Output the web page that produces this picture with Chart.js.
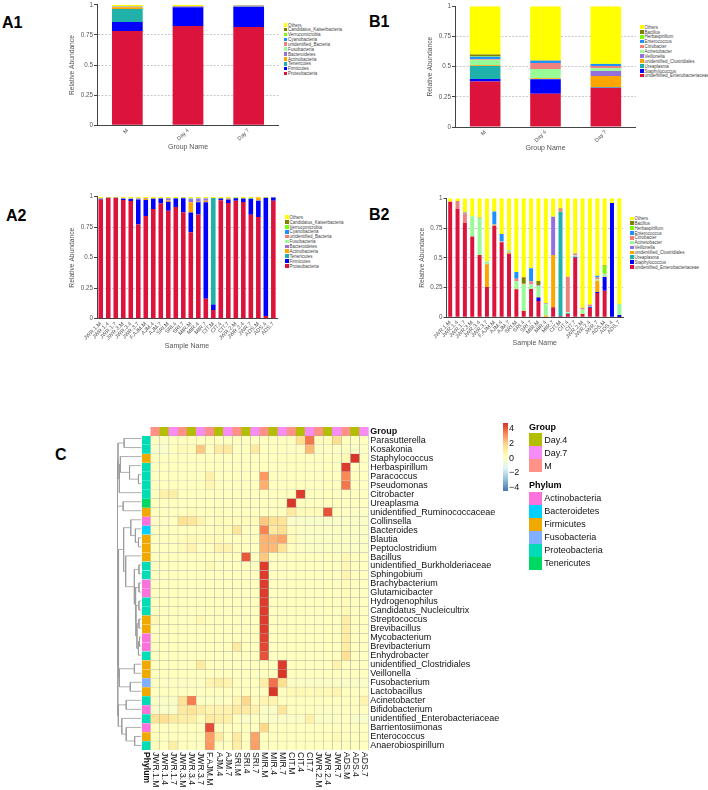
<!DOCTYPE html>
<html>
<head>
<meta charset="utf-8">
<title>Relative abundance and heatmap</title>
<script src="https://cdn.jsdelivr.net/npm/chart.js@4/dist/chart.umd.min.js"></script>
<style>
  html, body { margin: 0; background: #fff; }
  #page { position: relative; width: 708px; height: 790px; overflow: hidden; font-family: "Liberation Sans", Arial, sans-serif; }
  #page canvas { position: absolute; }
  .panel { position: absolute; font-size: 16px; font-weight: bold; color: #000; line-height: 16px; }
  .leg { position: absolute; font-size: 4.5px; line-height: 5px; color: #444; white-space: nowrap; }
  .leg i { position: absolute; left: -4.5px; top: .5px; width: 3.6px; height: 3.6px; }
  .hm { position: absolute; font-size: 9px; line-height: 12px; color: #111; white-space: nowrap; }
  .hm b { color: #000; }
  .sw { position: absolute; width: 13px; border: 0; }
</style>
</head>
<body>
<div id="page"></div>
<script>
const page = document.getElementById("page");

// ---- stacked bars ----
const groupNames = ["M", "Day 4", "Day 7"];
const sampleNames = ["JWR.1.M", "JWR.1.4", "JWR.1.7", "JWR.3.M", "JWR.3.4", "JWR.3.7", "F.AJM.M", "AJM.4", "AJM.7", "SRI.M", "SRI.4", "SRI.7", "MIR.M", "MIR.4", "MIR.7", "CIT.M", "CIT.4", "CIT.7", "JWR.2.M", "JWR.2.4", "JWR.7", "ADS.M", "ADS.4", "ADS.7"];
const barColors = ["#DC143C", "#0000FF", "#20B2AA", "#FFA500", "#9370DB", "#98FB98", "#F08080", "#1E90FF", "#7CFC00", "#808000", "#FFFF00"];
const yTicks = [0, 0.25, 0.5, 0.75, 1];

const phylaNames = ["Proteobacteria", "Firmicutes", "Tenericutes", "Actinobacteria", "Bacteroidetes", "Fusobacteria", "unidentified_Bacteria", "Cyanobacteria", "Verrucomicrobia", "Candidatus_Kaiserbacteria", "Others"];
const genusNames = ["unidentified_Enterobacteriaceae", "Staphylococcus", "Ureaplasma", "unidentified_Clostridiales", "Veillonella", "Acinetobacter", "Citrobacter", "Enterococcus", "Herbaspirillum", "Bacillus", "Others"];

// A1, one array per phylum, bottom of the stack first
const a1Proteo = [0.782, 0.824, 0.815];
const a1Firmi = [0.075, 0.156, 0.168];
const a1Teneri = [0.107, 0.001, 0.002];
const a1Actino = [0.015, 0.002, 0.003];
const a1Bactero = [0.005, 0.007, 0.006];
const a1Fuso = [0.001, 0, 0];
const a1Unid = [0.001, 0, 0];
const a1Cyano = [0, 0, 0];
const a1Verruco = [0, 0, 0];
const a1Candid = [0.001, 0, 0];
const a1Others = [0.013, 0.01, 0.006];

// B1, one array per genus
const b1Entero = [0.378, 0.276, 0.323];
const b1Staph = [0.02, 0.119, 0.003];
const b1Urea = [0.107, 0.002, 0.004];
const b1Clost = [0.006, 0.006, 0.093];
const b1Veil = [0.002, 0.001, 0.041];
const b1Acin = [0.045, 0.077, 0.022];
const b1Citro = [0.006, 0.05, 0.02];
const b1Enteroc = [0.019, 0.017, 0.016];
const b1Herba = [0.003, 0.001, 0.001];
const b1Bacil = [0.014, 0.001, 0.002];
const b1Others = [0.4, 0.45, 0.475];

// A2
const a2Proteo = [0.978, 0.99, 0.99, 0.973, 0.965, 0.773, 0.842, 0.899, 0.945, 0.885, 0.915, 0.872, 0.708, 0.855, 0.164, 0.071, 0.97, 0.948, 0.967, 0.956, 0.852, 0.833, 0.022, 0.967];
const a2Firmi = [0.005, 0.001, 0.001, 0.011, 0.016, 0.205, 0.13, 0.085, 0.04, 0.074, 0.07, 0.116, 0.162, 0.1, 0.79, 0.046, 0.015, 0.03, 0.02, 0.03, 0.13, 0.134, 0.97, 0.026];
const a2Teneri = [0, 0, 0, 0, 0, 0, 0, 0, 0, 0, 0, 0, 0, 0, 0, 0.873, 0.002, 0, 0.004, 0, 0.006, 0.002, 0, 0];
const a2Actino = [0, 0, 0, 0, 0, 0, 0.012, 0.003, 0, 0.01, 0, 0.002, 0.085, 0.003, 0.012, 0, 0, 0.005, 0, 0.001, 0, 0.024, 0, 0];
const a2Bactero = [0.002, 0.001, 0.001, 0.004, 0.004, 0.008, 0.005, 0.003, 0.003, 0.018, 0.004, 0.001, 0.028, 0.028, 0.02, 0, 0, 0.004, 0, 0, 0, 0, 0, 0.002];
const a2Fuso = [0, 0, 0, 0, 0, 0, 0, 0, 0, 0, 0, 0, 0.005, 0.004, 0.004, 0, 0, 0, 0, 0, 0, 0, 0, 0];
const a2Unid = [0, 0, 0, 0, 0, 0, 0, 0, 0, 0, 0, 0, 0, 0, 0, 0, 0, 0, 0, 0, 0, 0, 0, 0];
const a2Cyano = [0, 0, 0, 0, 0, 0, 0, 0, 0, 0, 0, 0, 0, 0, 0, 0, 0, 0, 0, 0, 0, 0, 0, 0];
const a2Verruco = [0, 0, 0, 0, 0, 0, 0, 0, 0, 0, 0, 0, 0.004, 0, 0, 0, 0, 0, 0, 0, 0, 0, 0, 0];
const a2Candid = [0, 0, 0, 0, 0, 0, 0, 0, 0, 0, 0, 0, 0, 0, 0, 0, 0, 0, 0, 0, 0, 0, 0, 0];
const a2Others = [0.015, 0.008, 0.008, 0.012, 0.015, 0.014, 0.011, 0.01, 0.012, 0.013, 0.011, 0.009, 0.008, 0.01, 0.01, 0.01, 0.013, 0.013, 0.009, 0.013, 0.012, 0.007, 0.008, 0.005];

// B2
const b2Entero = [0.97, 0.91, 0.795, 0.678, 0.524, 0.255, 0.77, 0.63, 0.532, 0.235, 0.053, 0.238, 0.137, 0.004, 0.084, 0.01, 0.028, 0.5, 0.027, 0.08, 0.205, 0.224, 0, 0.002];
const b2Staph = [0, 0, 0, 0, 0, 0, 0, 0, 0, 0, 0, 0, 0.03, 0, 0, 0, 0, 0.005, 0, 0.008, 0.008, 0.114, 0.96, 0.018];
const b2Urea = [0, 0, 0, 0, 0, 0, 0, 0, 0, 0, 0, 0, 0, 0, 0, 0.878, 0.006, 0.005, 0, 0, 0, 0, 0, 0];
const b2Clost = [0, 0, 0, 0, 0, 0.19, 0.006, 0.005, 0.012, 0.005, 0.003, 0, 0.005, 0.011, 0.44, 0.005, 0, 0, 0.003, 0, 0.095, 0.003, 0, 0];
const b2Veil = [0, 0, 0, 0, 0, 0.003, 0, 0, 0.005, 0, 0, 0, 0, 0, 0.322, 0, 0, 0, 0, 0, 0, 0, 0, 0];
const b2Acin = [0, 0, 0, 0.17, 0.31, 0.02, 0.001, 0.002, 0.01, 0.065, 0.221, 0.04, 0.09, 0.095, 0, 0, 0.008, 0.01, 0.035, 0.008, 0.012, 0.02, 0, 0.092];
const b2Citro = [0, 0.067, 0.08, 0.002, 0.005, 0.003, 0.003, 0, 0, 0.02, 0.005, 0.025, 0.005, 0.003, 0, 0.017, 0.298, 0.015, 0.015, 0.012, 0.015, 0.005, 0, 0];
const b2Enteroc = [0, 0, 0.005, 0, 0, 0, 0.11, 0.063, 0.002, 0.055, 0, 0.11, 0.002, 0.005, 0, 0, 0, 0.002, 0, 0, 0.015, 0, 0, 0];
const b2Herba = [0, 0, 0, 0, 0, 0, 0, 0, 0, 0, 0, 0, 0, 0, 0, 0, 0, 0, 0, 0, 0, 0.065, 0, 0];
const b2Bacil = [0, 0, 0, 0, 0, 0, 0, 0, 0, 0, 0.055, 0, 0.035, 0, 0, 0.005, 0, 0, 0, 0, 0, 0.005, 0, 0];
const b2Others = [0.03, 0.023, 0.12, 0.15, 0.161, 0.529, 0.11, 0.3, 0.439, 0.62, 0.663, 0.587, 0.696, 0.882, 0.154, 0.085, 0.66, 0.463, 0.92, 0.892, 0.65, 0.564, 0.04, 0.888];

// ---- heatmap ----
const heatRows = ["Parasutterella", "Kosakonia", "Staphylococcus", "Herbaspirillum", "Paracoccus", "Pseudomonas", "Citrobacter", "Ureaplasma", "unidentified_Ruminococcaceae", "Collinsella", "Bacteroides", "Blautia", "Peptoclostridium", "Bacillus", "unidentified_Burkholderiaceae", "Sphingobium", "Brachybacterium", "Glutamicibacter", "Hydrogenophilus", "Candidatus_Nucleicultrix", "Streptococcus", "Brevibacillus", "Mycobacterium", "Brevibacterium", "Enhydrobacter", "unidentified_Clostridiales", "Veillonella", "Fusobacterium", "Lactobacillus", "Acinetobacter", "Bifidobacterium", "unidentified_Enterobacteriaceae", "Barrientosiimonas", "Enterococcus", "Anaerobiospirillum"];
const heatCols = ["JWR.1.M", "JWR.1.4", "JWR.1.7", "JWR.3.M", "JWR.3.4", "JWR.3.7", "F.AJM.M", "AJM.4", "AJM.7", "SRI.M", "SRI.4", "SRI.7", "MIR.M", "MIR.4", "MIR.7", "CIT.M", "CIT.4", "CIT.7", "JWR.2.M", "JWR.2.4", "JWR.7", "ADS.M", "ADS.4", "ADS.7"];
const colGroup = ["M", "Day.4", "Day.7", "M", "Day.4", "Day.7", "M", "Day.4", "Day.7", "M", "Day.4", "Day.7", "M", "Day.4", "Day.7", "M", "Day.4", "Day.7", "M", "Day.4", "Day.7", "M", "Day.4", "Day.7"];
const rowPhylum = ["Proteobacteria", "Proteobacteria", "Firmicutes", "Proteobacteria", "Proteobacteria", "Proteobacteria", "Proteobacteria", "Tenericutes", "Firmicutes", "Actinobacteria", "Bacteroidetes", "Firmicutes", "Firmicutes", "Firmicutes", "Proteobacteria", "Proteobacteria", "Actinobacteria", "Actinobacteria", "Proteobacteria", "Proteobacteria", "Firmicutes", "Firmicutes", "Actinobacteria", "Actinobacteria", "Proteobacteria", "Firmicutes", "Firmicutes", "Fusobacteria", "Firmicutes", "Proteobacteria", "Actinobacteria", "Proteobacteria", "Actinobacteria", "Firmicutes", "Proteobacteria"];
const heatValues = [
  [-.1, -.1, 0, 0, 0, 0, 0, 0, 0, 0, 0, 0, 0, 0, 0, 0, 1.5, 3.5, .1, .1, 1.6, 0, 0, 0],
  [-.3, -.3, 0, .3, .2, 2, 0, 1, 1.1, 0, 0, 1, 0, 0, 0, -.1, -.1, 2.3, -.1, -.1, -.1, -.1, -.2, -.1],
  [0, 0, 0, 0, 0, 0, 0, 0, 0, 0, 0, 0, 0, 0, 0, 0, 0, 0, 0, 0, 0, .3, 4.6, 0],
  [0, 0, 0, 0, 0, 0, 0, 0, 0, 0, 0, 0, 0, 0, 0, 0, 0, 0, 0, 0, 0, 4.5, 0, 0],
  [0, 0, 0, 0, 0, 0, .7, 0, 0, 0, 0, 0, 2.9, 0, 0, 0, 0, 0, 0, 0, 0, 3.2, 0, 0],
  [0, 0, 0, 0, 0, 0, .4, 0, 0, 0, 0, 0, 2.5, 0, 0, 0, 0, 0, 0, 0, 0, 3.5, 0, 0],
  [0, .7, .8, 0, 0, 0, 0, 0, 0, 0, 0, 0, 0, 0, 0, 0, 4.5, 0, 0, 0, 0, 0, 0, 0],
  [0, 0, 0, 0, 0, 0, 0, 0, 0, 0, 0, 0, 0, 0, 0, 4.6, 0, 0, 0, 0, 0, 0, 0, 0],
  [0, 0, 0, 0, .2, 0, 0, .1, 0, 0, 0, 0, 0, 0, 0, 1, .2, .2, .1, 4.1, 0, -.1, -.1, -.1],
  [-.1, -.1, 0, 1.4, 1.2, .5, 0, .2, .2, .1, .2, .2, 2, 1.5, 1.3, -.3, -.3, -.3, -.3, -.3, -.3, -.2, -.2, -.2],
  [0, 0, 0, 0, 0, 0, 0, .2, .2, 1.2, 0, 0, 3.3, 1, 1.5, .1, -.1, -.1, -.1, -.1, -.1, -.1, -.1, -.1],
  [0, 0, 0, .2, .3, .2, .2, .2, 0, 0, 0, 0, 2.4, 2.4, 2.7, .2, -.1, -.1, -.1, -.1, -.1, -.1, -.1, -.1],
  [0, 0, 0, .2, .5, 0, 0, .6, .6, .1, 0, 0, 2.4, 2.3, 1.3, 0, -.1, -.1, -.1, -.1, -.1, -.1, -.1, -.1],
  [0, 0, 0, 0, 0, 0, 0, 0, 0, 0, 4, 0, 2, 0, 0, 0, 0, 0, 0, 0, 0, .3, 0, 0],
  [0, 0, 0, 0, 0, 0, .3, 0, 0, 0, 0, 0, 4.5, 0, 0, 0, 0, 0, 0, 0, 0, .4, 0, 0],
  [0, 0, 0, 0, 0, 0, 0, 0, 0, 0, 0, 0, 4.5, 0, 0, 0, 0, 0, 0, 0, 0, .5, 0, 0],
  [0, 0, 0, 0, 0, 0, 0, 0, 0, 0, 0, 0, 4.5, 0, 0, 0, 0, 0, 0, 0, 0, .2, 0, 0],
  [0, 0, 0, 0, 0, 0, 0, 0, 0, 0, 0, 0, 4.5, 0, 0, 0, 0, 0, 0, 0, 0, .2, 0, 0],
  [0, 0, 0, 0, 0, 0, 0, 0, 0, 0, 0, 0, 4.5, 0, 0, 0, 0, 0, 0, 0, 0, .2, 0, 0],
  [0, 0, 0, 0, 0, 0, 0, 0, 0, 0, 0, 0, 4.5, 0, 0, 0, 0, 0, 0, 0, 0, .3, 0, 0],
  [.4, 0, 0, 0, 0, .3, 0, 0, 0, 0, 0, 0, 4.5, 0, 0, 0, 0, 0, 0, 0, 0, .8, 0, 0],
  [0, 0, 0, 0, 0, 0, 0, 0, 0, 0, 0, 0, 4.5, 0, 0, 0, 0, 0, 0, 0, 0, .8, 0, 0],
  [0, 0, 0, 0, 0, 0, 0, 0, 0, 0, 0, 0, 4.4, 0, 0, 0, 0, 0, 0, 0, 0, .9, 0, 0],
  [0, 0, 0, 0, 0, 0, 0, 0, 0, 1, 0, 0, 4.3, 0, 0, 0, 0, 0, 0, 0, 0, .9, 0, 0],
  [0, 0, 0, 0, 0, 0, 0, 0, 0, 0, 0, 0, 4.1, 0, 0, 0, 0, 0, 0, 0, 0, 1.5, 0, 0],
  [0, 0, 0, 0, 0, 1, 0, 0, 0, 0, 0, 0, 0, 0, 4.5, 0, 0, 0, 0, 0, .6, 0, 0, 0],
  [0, 0, 0, 0, 0, 0, 0, 0, 0, 0, 0, 0, 0, 0, 4.6, 0, 0, 0, 0, 0, 0, 0, 0, 0],
  [-.1, -.1, -.1, -.1, -.1, -.1, .5, .8, .6, 0, 0, 0, .8, 3.6, 1.6, -.2, -.2, -.2, -.2, -.2, -.2, -.2, -.2, -.2],
  [0, 0, 0, 0, 0, 0, 0, 0, 0, 0, 0, 0, 0, 4.6, 0, .3, .3, .2, .3, .3, .5, 0, 0, 0],
  [-.2, -.2, -.2, 1.3, 3.4, -.1, -.1, -.1, -.1, .4, 1.7, .1, .5, .5, 0, 0, 0, 0, 0, 0, 0, 0, 0, .6],
  [-.3, -.3, -.3, 1, 1.3, .9, .5, .6, .6, 1, 1, .6, -.2, -.2, 1.2, 0, 0, 0, -.1, -.1, -.1, 0, 0, 0],
  [1.4, 1.5, 1, .8, .8, .2, 1, .8, .7, 0, -.3, 0, -.2, -.2, -.2, -.2, -.2, .7, -.2, -.2, -.2, 0, -.3, -.3],
  [0, 0, 0, 0, 0, 0, 4.2, 0, 0, 0, 0, 0, 1.7, 0, 0, 0, 0, 0, 0, 0, 0, 0, 0, 0],
  [0, 0, 0, 0, 0, 0, 2.8, 1, 0, 1, 0, 2.7, 0, 0, 0, 0, 0, 0, 0, 0, .3, 0, 0, 0],
  [.2, 0, .8, 0, 0, 0, 2.9, 0, 0, .8, 0, 2.8, 0, 0, 0, 0, 0, 0, 0, 0, 0, 0, 0, 0]
];

const groupColors = { "Day.4": "#B4BE00", "Day.7": "#F78CF5", "M": "#FF9288" };
const phylumColors = { Actinobacteria: "#FB72DC", Bacteroidetes: "#00D0FF", Firmicutes: "#F0A900", Fusobacteria: "#80AFFF", Proteobacteria: "#00DDB6", Tenericutes: "#00D864" };
const scaleStops = [[-4.7, "#4575B4"], [-3.13, "#91BFDB"], [-1.57, "#E0F3F8"], [0, "#FFFFBF"], [1.57, "#FEE090"], [3.13, "#FC8D59"], [4.7, "#D73027"]];
const colorbarTicks = ["4", "2", "0", "\u22122", "\u22124"];

// row clustering: [left, right, height], >=0 is a row, <0 is an earlier merge (-1 = first)
const dendroMerges = [
  [0, 1, 17], [4, 5, 3], [3, -2, 11.7], [2, -3, 20.7], [-4, 6, 21.7], [-1, -5, 23],
  [7, 8, 18], [-6, -7, 23.5],
  [11, 12, 3], [10, -9, 6], [9, -10, 10.5],
  [14, 15, 2.5], [16, 17, 2.5], [18, 19, 2.5], [20, 21, 2.5], [22, 23, 2], [-16, 24, 3],
  [-15, -17, 4.5], [-14, -18, 5.5], [-13, -19, 6], [-12, -20, 7], [13, -21, 15.5],
  [-11, -22, 17.5],
  [25, 26, 7], [27, 28, 11], [-24, -25, 21.7], [-23, -26, 22.5],
  [29, 30, 15], [33, 34, 6.7], [32, -29, 15], [31, -30, 19.3], [-28, -31, 22.7],
  [-27, -32, 23.2], [-8, -33, 24]
];

function hexToRgb(h) {
  return [1, 3, 5].map((i) => parseInt(h.slice(i, i + 2), 16));
}
function heatColor(v) {
  for (let i = 1; i < scaleStops.length; i++) {
    if (v <= scaleStops[i][0]) {
      const t = (v - scaleStops[i - 1][0]) / (scaleStops[i][0] - scaleStops[i - 1][0]);
      const a = hexToRgb(scaleStops[i - 1][1]);
      const b = hexToRgb(scaleStops[i][1]);
      return `rgb(${a.map((c, k) => Math.round(c + (b[k] - c) * t)).join(",")})`;
    }
  }
  return scaleStops[scaleStops.length - 1][1];
}

function addCanvas(left, top, w, h) {
  const c = document.createElement("canvas");
  c.style.left = left + "px";
  c.style.top = top + "px";
  c.style.width = w + "px";
  c.style.height = h + "px";
  c.width = w;
  c.height = h;
  page.appendChild(c);
  return c;
}

function addText(cls, left, top, html) {
  const d = document.createElement("div");
  d.className = cls;
  d.style.left = left + "px";
  d.style.top = top + "px";
  d.innerHTML = html;
  page.appendChild(d);
  return d;
}

const AXIS = "#444";
const LABEL = "#555";
const FONT = "'Liberation Sans', Arial, sans-serif";

// box: canvas left/top/w/h, axisX and y0 in page px, yTop in page px
function stackChart(box, labels, names, series, xTitle, barPct, tickSize) {
  const c = addCanvas(box.left, box.top, box.w, box.h);
  new Chart(c, {
    type: "bar",
    data: {
      labels,
      datasets: names.map((n, i) => ({
        label: n,
        data: series[i],
        backgroundColor: barColors[i],
        barPercentage: barPct,
        categoryPercentage: 1,
      })),
    },
    options: {
      responsive: false,
      animation: false,
      layout: { padding: { top: box.yTop - box.top } },
      plugins: { legend: { display: false }, tooltip: { enabled: false } },
      scales: {
        x: {
          stacked: true,
          grid: { display: false, drawTicks: false },
          border: { color: AXIS, width: 1 },
          ticks: { font: { size: tickSize, family: FONT }, color: LABEL, maxRotation: 45, minRotation: 45, autoSkip: false, padding: 2 },
          title: { display: true, text: xTitle, font: { size: 7, family: FONT }, color: LABEL, padding: 0 },
          afterFit: (s) => { s.height = box.top + box.h - box.y0; },
        },
        y: {
          stacked: true,
          min: 0,
          max: 1,
          afterBuildTicks: (s) => { s.ticks = yTicks.map((v) => ({ value: v })); },
          grid: {
            color: (ctx) => (ctx.tick && (ctx.tick.value === 0 || ctx.tick.value === 1) ? "rgba(0,0,0,0)" : "#c9c9c9"),
            tickColor: AXIS,
            tickLength: 3,
          },
          border: { color: AXIS, width: 1, dash: [2, 1.5] },
          ticks: { font: { size: 6.3, family: FONT }, color: LABEL, padding: 1, callback: (v) => String(v) },
          title: { display: true, text: "Relative Abundance", font: { size: 6.7, family: FONT }, color: LABEL, padding: 0 },
          afterFit: (s) => { s.width = box.axisX - box.left; },
        },
      },
    },
  });
}

function barLegend(x, y, names) {
  names.slice().reverse().forEach((n, i) => {
    const color = barColors[names.length - 1 - i];
    addText("leg", x + 4.5, y + i * 4.87, `<i style="background:${color}"></i>${n}`);
  });
}

stackChart({ left: 68, top: 0, w: 211, h: 151, axisX: 97, y0: 125.3, yTop: 4.3 }, groupNames, phylaNames,
  [a1Proteo, a1Firmi, a1Teneri, a1Actino, a1Bactero, a1Fuso, a1Unid, a1Cyano, a1Verruco, a1Candid, a1Others], "Group Name", 0.507, 5.5);
stackChart({ left: 426, top: 0, w: 210, h: 152, axisX: 455, y0: 127, yTop: 6.3 }, groupNames, genusNames,
  [b1Entero, b1Staph, b1Urea, b1Clost, b1Veil, b1Acin, b1Citro, b1Enteroc, b1Herba, b1Bacil, b1Others], "Group Name", 0.507, 5.5);
stackChart({ left: 68, top: 185, w: 212, h: 165, axisX: 97, y0: 318.7, yTop: 196.7 }, sampleNames, phylaNames,
  [a2Proteo, a2Firmi, a2Teneri, a2Actino, a2Bactero, a2Fuso, a2Unid, a2Cyano, a2Verruco, a2Candid, a2Others], "Sample Name", 0.61, 5.5);
stackChart({ left: 418, top: 185, w: 208, h: 162, axisX: 446.5, y0: 317.3, yTop: 198.3 }, sampleNames, genusNames,
  [b2Entero, b2Staph, b2Urea, b2Clost, b2Veil, b2Acin, b2Citro, b2Enteroc, b2Herba, b2Bacil, b2Others], "Sample Name", 0.54, 5.5);

barLegend(283.5, 22.5, phylaNames);
barLegend(640, 24.7, genusNames);
barLegend(285, 214.8, phylaNames);
barLegend(630, 216, genusNames);

addText("panel", 2, 15, "A1");
addText("panel", 369, 14, "B1");
addText("panel", 6, 208, "A2");
addText("panel", 369, 207, "B2");
addText("panel", 55, 447, "C");

// heatmap sample labels read downwards, which the axis ticks cannot do
const downLabels = {
  id: "downLabels",
  afterDraw(chart) {
    const ctx = chart.ctx;
    const x = chart.scales.x;
    ctx.save();
    ctx.fillStyle = "#111";
    ctx.textAlign = "left";
    ctx.textBaseline = "middle";
    x.getLabels().forEach((label, i) => {
      ctx.save();
      ctx.translate(x.getPixelForValue(i), chart.chartArea.bottom + 2);
      ctx.rotate(Math.PI / 2);
      ctx.font = (i === 0 ? "bold " : "") + "8.6px " + FONT;
      ctx.fillText(label, 0, 0);
      ctx.restore();
    });
    ctx.restore();
  },
};

function heatDatasets() {
  const sets = [];
  for (let r = heatRows.length - 1; r >= 0; r--) {
    sets.push({
      label: heatRows[r],
      data: new Array(heatCols.length + 1).fill(1),
      backgroundColor: [phylumColors[rowPhylum[r]]].concat(heatValues[r].map(heatColor)),
      borderColor: ["rgba(0,0,0,0)"].concat(heatValues[r].map(() => "#aaa99a")),
      borderWidth: 0.5,
      barPercentage: 1,
      categoryPercentage: 1,
    });
  }
  // annotation row on top
  sets.push({
    label: "Group",
    data: new Array(heatCols.length + 1).fill(1),
    backgroundColor: ["rgba(0,0,0,0)"].concat(colGroup.map((g) => groupColors[g])),
    borderWidth: 0,
    barPercentage: 1,
    categoryPercentage: 1,
  });
  return sets;
}

new Chart(addCanvas(140, 420, 368, 370), {
  type: "bar",
  data: { labels: ["Phylum"].concat(heatCols), datasets: heatDatasets() },
  options: {
    responsive: false,
    animation: false,
    layout: { padding: { left: 1.7, top: 4, bottom: 40 } },
    plugins: { legend: { display: false }, tooltip: { enabled: false } },
    scales: {
      x: { stacked: true, display: false },
      y: { stacked: true, display: false, min: 0, max: heatRows.length + 1 },
      rowNames: {
        type: "category",
        axis: "y",
        position: "right",
        offset: true,
        labels: ["Group"].concat(heatRows),
        grid: { display: false, drawTicks: false },
        border: { display: false },
        ticks: {
          autoSkip: false,
          padding: 1.5,
          color: "#111",
          font: (ctx) => ({ size: 9, family: FONT, weight: ctx.index === 0 ? "bold" : "normal" }),
        },
        afterFit: (s) => { s.width = 139.3; },
      },
    },
  },
  plugins: [downLabels],
});

// dendrogram: x is merge height, y is row position
function dendroDatasets() {
  const nodes = [];
  const place = (id) => (id >= 0 ? { y: id + 0.5, h: 0 } : nodes[-id - 1]);
  return dendroMerges.map(([a, b, h]) => {
    const l = place(a);
    const r = place(b);
    nodes.push({ y: (l.y + r.y) / 2, h });
    return {
      data: [{ x: l.h, y: l.y }, { x: h, y: l.y }, { x: h, y: r.y }, { x: r.h, y: r.y }],
      showLine: true,
      pointRadius: 0,
      borderColor: "#9a9a9a",
      borderWidth: 0.8,
      tension: 0,
    };
  });
}

new Chart(addCanvas(116, 433, 26, 319), {
  type: "scatter",
  data: { datasets: dendroDatasets() },
  options: {
    responsive: false,
    animation: false,
    layout: { padding: { left: 1, right: 0.5, top: 1, bottom: 2 } },
    plugins: { legend: { display: false }, tooltip: { enabled: false } },
    scales: {
      x: { display: false, reverse: true, min: 0, max: 24 },
      y: { display: false, reverse: true, min: 0, max: heatRows.length },
    },
  },
});

// colour key
const bar = addText("hm", 502.7, 423.3, "");
bar.style.width = "5px";
bar.style.height = "67.7px";
bar.style.background = `linear-gradient(to top, ${scaleStops.map((s) => s[1]).join(",")})`;
colorbarTicks.forEach((t, i) => {
  addText("hm", 509, 422.3 + i * 14.6, t);
});

function swatchBlock(title, titleY, swatchY, names, colors) {
  addText("hm", 529, titleY, `<b>${title}</b>`);
  names.forEach((n, i) => {
    const s = addText("sw", 529, swatchY + i * 13, "");
    s.style.height = "13px";
    s.style.background = colors[n];
    addText("hm", 544.3, swatchY + i * 13 + 0.5, n);
  });
}
swatchBlock("Group", 421, 433.3, Object.keys(groupColors), groupColors);
swatchBlock("Phylum", 479.3, 491.7, Object.keys(phylumColors), phylumColors);
</script>
</body>
</html>
